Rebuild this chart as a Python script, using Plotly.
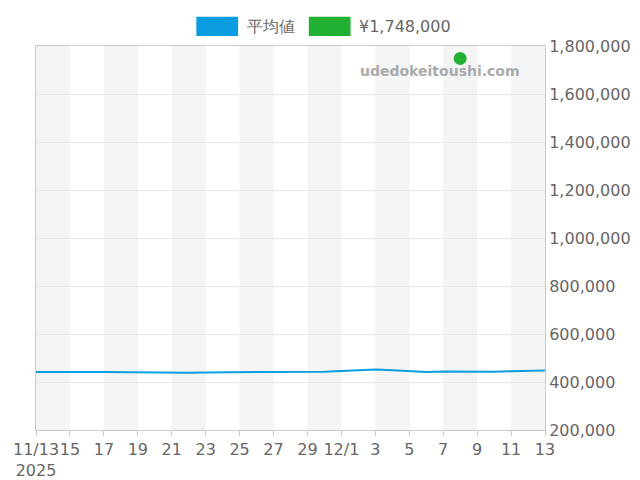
import plotly.graph_objects as go
import pandas as pd

dates = pd.date_range("2025-11-13", "2025-12-13", freq="D")
avg = [442000,443000,443000,442000,442000,441000,441000,440000,439000,439000,440000,440000,441000,441000,440000,441000,441000,443000,446000,448000,452000,449000,445000,442000,444000,443000,444000,443000,445000,446000,448000]
dot_date = ["2025-12-08"]
dot_val = [1748000]
tick_dates = pd.date_range("2025-11-13", "2025-12-13", freq="2D")
tick_text = ["11/13<br>2025","15","17","19","21","23","25","27","29","12/1","3","5","7","9","11","13"]

fig = go.Figure()
for i in range(0, 30, 4):
    fig.add_shape(type="rect", xref="x", yref="paper", x0=dates[i], x1=dates[i+2], y0=0, y1=1,
                  fillcolor="#f4f4f4", line_width=0, layer="below")
fig.add_trace(go.Scatter(x=dates, y=avg, mode="lines", line=dict(color="#0a9ee0", width=2), showlegend=False))
fig.add_trace(go.Scatter(x=pd.to_datetime(dot_date), y=dot_val, mode="markers",
                         marker=dict(color="#22b033", size=13), showlegend=False))
# legend
fig.add_shape(type="rect", xref="paper", yref="paper", x0=0.315, x1=0.397, y0=1.026, y1=1.076, fillcolor="#0a9ee0", line_width=0)
fig.add_shape(type="rect", xref="paper", yref="paper", x0=0.536, x1=0.618, y0=1.026, y1=1.076, fillcolor="#22b033", line_width=0)
fig.add_annotation(xref="paper", yref="paper", x=0.41, y=1.051, yanchor="middle", text="平均値", showarrow=False, xanchor="left", font=dict(size=16, color="#666"))
fig.add_annotation(xref="paper", yref="paper", x=0.63, y=1.051, yanchor="middle", text="¥1,748,000", showarrow=False, xanchor="left", font=dict(size=16, color="#666"))
fig.add_annotation(xref="paper", yref="paper", x=0.955, y=0.935, yanchor="middle", text="<b>udedokeitoushi.com</b>", showarrow=False, xanchor="right", font=dict(size=14, color="#aaa"))

fig.update_layout(width=640, height=480, margin=dict(l=28, r=103, t=38, b=58),
                  plot_bgcolor="white", paper_bgcolor="white",
                  font=dict(family="DejaVu Sans", color="#666", size=16))
fig.update_xaxes(range=[dates[0], dates[-1]], tickvals=tick_dates, ticktext=tick_text, showgrid=False, automargin=False,
                 showline=True, linecolor="#ccc", mirror=True, ticks="outside", tickcolor="#ccc", tickangle=0)
fig.update_yaxes(range=[200000, 1800000], side="right", tickvals=list(range(200000, 1800001, 200000)), automargin=False,
                 tickformat=",", gridcolor="#e6e6e6", showline=True, linecolor="#ccc", mirror=True, zeroline=False)
fig.write_html("out.html")
